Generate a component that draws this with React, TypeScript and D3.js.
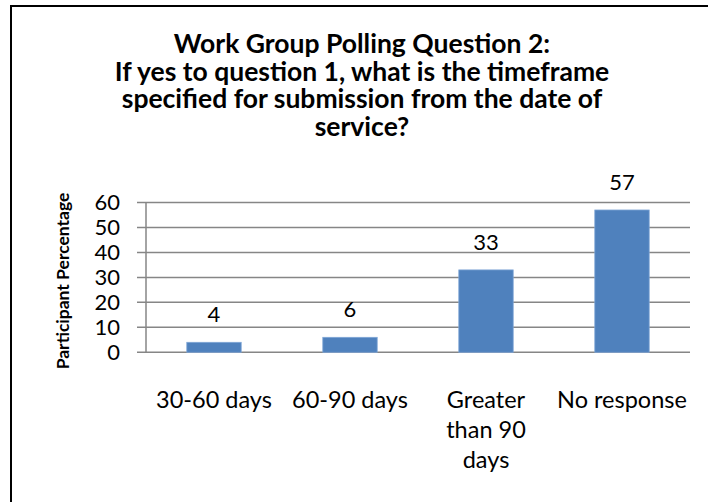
import React from "react";
import * as d3 from "d3";

const categories: string[][] = [
  ["30-60 days"],
  ["60-90 days"],
  ["Greater", "than 90", "days"],
  ["No response"],
];
const categoryKeys = ["30-60 days", "60-90 days", "Greater than 90 days", "No response"];
const values = [4, 6, 33, 57];
const yTicks = [0, 10, 20, 30, 40, 50, 60];
const titleLines = [
  "Work Group Polling Question 2:",
  "If yes to question 1, what is the timeframe",
  "specified for submission from the date of",
  "service?",
];
const yLabel = "Participant Percentage";

const W = 708;
const H = 502;
const plot = { left: 146, right: 690, top: 202.5, bottom: 352.3 };
const FONT = "Lato, 'Open Sans', sans-serif";

export default function App() {
  const x = d3
    .scaleBand<string>()
    .domain(categoryKeys)
    .range([plot.left, plot.right])
    .paddingInner(0.6)
    .paddingOuter(0.3);
  const y = d3.scaleLinear().domain([0, 60]).range([plot.bottom, plot.top]);
  const band = (plot.right - plot.left) / categoryKeys.length;

  return (
    <svg
      width={W}
      height={H}
      style={{ position: "absolute", left: 0, top: 0, display: "block" }}
      fontFamily={FONT}
    >
      <rect x={0} y={0} width={W} height={H} fill="#fff" />
      <rect x={11} y={6} width={W + 20} height={H + 20} fill="none" stroke="#000" strokeWidth={2} />
      {/* title */}
      <text textAnchor="middle" fontWeight="bold" fontSize={26.5} fill="#000">
        {titleLines.map((t, i) => (
          <tspan key={i} x={362} y={53 + i * 27.7}>
            {t}
          </tspan>
        ))}
      </text>
      {/* gridlines */}
      {yTicks.map((t) => (
        <line
          key={t}
          x1={plot.left - 9}
          x2={plot.right}
          y1={y(t)}
          y2={y(t)}
          stroke="#868686"
          strokeWidth={1.5}
        />
      ))}
      <line x1={plot.left} x2={plot.left} y1={plot.top} y2={plot.bottom} stroke="#868686" strokeWidth={1.5} />
      {/* y tick labels */}
      {yTicks.map((t) => (
        <text
          key={t}
          x={120}
          y={y(t)}
          dy="0.36em"
          textAnchor="end"
          fontSize={22}
          fill="#000"
        >
          {t}
        </text>
      ))}
      {/* bars */}
      {values.map((v, i) => (
        <rect
          key={i}
          x={x(categoryKeys[i])!}
          y={y(v)}
          width={x.bandwidth()}
          height={y(0) - y(v)}
          fill="#4F81BD"
          stroke="#7FA6D6"
          strokeWidth={0.8}
        />
      ))}
      {/* data labels */}
      {values.map((v, i) => (
        <text
          key={i}
          x={x(categoryKeys[i])! + x.bandwidth() / 2}
          y={y(v) - 20}
          textAnchor="middle"
          fontSize={22}
          fill="#000"
        >
          {v}
        </text>
      ))}
      {/* category labels */}
      {categories.map((lines, i) => (
        <text key={i} textAnchor="middle" fontSize={23.5} fill="#000">
          {lines.map((l, j) => (
            <tspan key={j} x={plot.left + band * (i + 0.5)} y={408 + j * 30}>
              {l}
            </tspan>
          ))}
        </text>
      ))}
      {/* y axis label */}
      <text
        transform={`translate(69, 281) rotate(-90)`}
        textAnchor="middle"
        fontWeight="bold"
        fontSize={17.5}
        fill="#000"
      >
        {yLabel}
      </text>
    </svg>
  );
}
